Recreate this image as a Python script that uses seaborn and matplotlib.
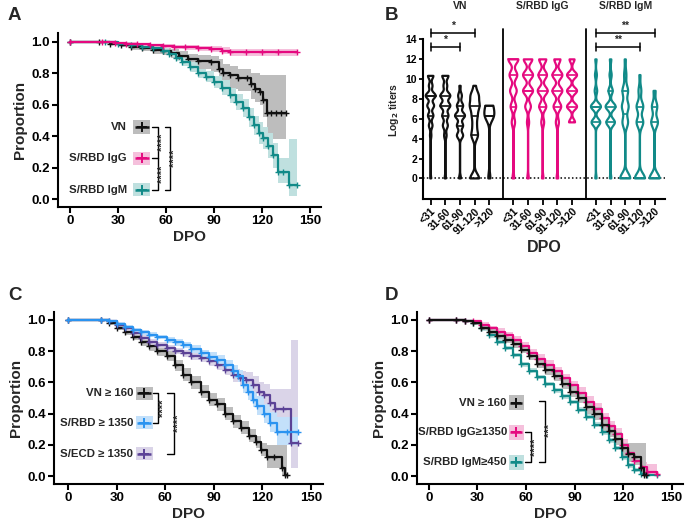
import numpy as np
import pandas as pd
import matplotlib
matplotlib.use("Agg")
import matplotlib.pyplot as plt
from matplotlib.patches import Rectangle
from matplotlib.ticker import FormatStrFormatter
import seaborn as sns

# ---------------- data ----------------
# Panel A
A_VN_t = [0, 18, 25, 32, 38, 45, 52, 58, 63, 68, 74, 80, 88, 93, 96, 100, 105, 111, 113, 116, 119, 121, 123, 126, 129, 132, 135]
A_VN_s = [1.0, 1.0, 0.99, 0.98, 0.97, 0.96, 0.95, 0.94, 0.93, 0.91, 0.89, 0.88, 0.87, 0.83, 0.80, 0.79, 0.77, 0.77, 0.73, 0.70, 0.68, 0.63, 0.55, 0.55, 0.55, 0.55, 0.55]
A_VN_lo = [1.0, 1.0, 0.98, 0.965, 0.95, 0.94, 0.925, 0.915, 0.90, 0.88, 0.85, 0.83, 0.81, 0.76, 0.72, 0.70, 0.69, 0.69, 0.64, 0.62, 0.60, 0.52, 0.38, 0.38, 0.38, 0.38, 0.38]
A_VN_hi = [1.0, 1.0, 1.0, 0.99, 0.985, 0.975, 0.97, 0.96, 0.955, 0.94, 0.925, 0.915, 0.91, 0.89, 0.86, 0.85, 0.83, 0.83, 0.80, 0.80, 0.79, 0.79, 0.79, 0.79, 0.79, 0.79, 0.79]

A_IgG_t = [0, 20, 28, 35, 42, 50, 58, 65, 72, 80, 88, 95, 100, 110, 120, 130, 142]
A_IgG_s = [1.0, 1.0, 0.995, 0.99, 0.985, 0.98, 0.975, 0.97, 0.965, 0.96, 0.955, 0.945, 0.935, 0.935, 0.935, 0.935, 0.935]
A_IgG_lo = [1.0, 1.0, 0.99, 0.983, 0.976, 0.97, 0.963, 0.957, 0.95, 0.944, 0.937, 0.925, 0.913, 0.913, 0.912, 0.912, 0.912]
A_IgG_hi = [1.0, 1.0, 1.0, 0.997, 0.993, 0.99, 0.987, 0.983, 0.98, 0.976, 0.973, 0.965, 0.957, 0.957, 0.958, 0.958, 0.958]

A_IgM_t = [0, 22, 30, 38, 45, 52, 58, 62, 66, 70, 75, 80, 85, 90, 95, 100, 104, 108, 112, 115, 118, 121, 124, 127, 130, 133, 137, 142]
A_IgM_s = [1.0, 1.0, 0.99, 0.98, 0.97, 0.96, 0.945, 0.925, 0.90, 0.87, 0.84, 0.80, 0.78, 0.745, 0.71, 0.66, 0.62, 0.58, 0.52, 0.47, 0.42, 0.39, 0.34, 0.28, 0.175, 0.175, 0.09, 0.09]
A_IgM_lo = [1.0, 1.0, 0.985, 0.97, 0.96, 0.945, 0.93, 0.905, 0.88, 0.845, 0.81, 0.77, 0.745, 0.705, 0.665, 0.61, 0.57, 0.52, 0.46, 0.41, 0.35, 0.32, 0.26, 0.20, 0.10, 0.10, 0.02, 0.02]
A_IgM_hi = [1.0, 1.0, 0.995, 0.99, 0.98, 0.975, 0.96, 0.945, 0.92, 0.895, 0.87, 0.83, 0.815, 0.785, 0.755, 0.71, 0.67, 0.64, 0.58, 0.53, 0.49, 0.46, 0.42, 0.36, 0.26, 0.26, 0.38, 0.38]

# Panel C
C_VN_t = [0, 20, 25, 30, 35, 40, 45, 50, 55, 61, 66, 71, 76, 82, 87, 92, 97, 102, 107, 112, 116, 119, 123, 127, 132, 134, 135]
C_VN_s = [1.0, 1.0, 0.98, 0.95, 0.92, 0.89, 0.86, 0.83, 0.80, 0.77, 0.71, 0.65, 0.60, 0.54, 0.49, 0.46, 0.40, 0.35, 0.31, 0.26, 0.22, 0.17, 0.125, 0.12, 0.05, 0.01, 0.01]
C_VN_lo = [1.0, 1.0, 0.97, 0.935, 0.90, 0.87, 0.835, 0.80, 0.77, 0.735, 0.675, 0.61, 0.56, 0.50, 0.45, 0.42, 0.36, 0.31, 0.27, 0.22, 0.18, 0.13, 0.05, 0.05, 0.0, 0.0, 0.0]
C_VN_hi = [1.0, 1.0, 0.99, 0.965, 0.94, 0.91, 0.885, 0.86, 0.83, 0.805, 0.745, 0.69, 0.64, 0.58, 0.53, 0.50, 0.44, 0.39, 0.35, 0.30, 0.26, 0.21, 0.20, 0.20, 0.20, 0.20, 0.20]

C_RBD_t = [0, 20, 25, 30, 35, 40, 45, 50, 55, 61, 66, 71, 76, 82, 87, 92, 97, 102, 105, 108, 111, 114, 117, 121, 125, 129, 135, 142]
C_RBD_s = [1.0, 1.0, 0.99, 0.975, 0.955, 0.935, 0.92, 0.905, 0.89, 0.87, 0.855, 0.84, 0.815, 0.785, 0.765, 0.745, 0.71, 0.67, 0.64, 0.58, 0.54, 0.49, 0.45, 0.40, 0.34, 0.28, 0.28, 0.28]
C_RBD_lo = [1.0, 1.0, 0.985, 0.965, 0.945, 0.92, 0.905, 0.89, 0.875, 0.85, 0.835, 0.82, 0.79, 0.76, 0.735, 0.715, 0.675, 0.63, 0.60, 0.535, 0.49, 0.44, 0.39, 0.34, 0.28, 0.20, 0.20, 0.20]
C_RBD_hi = [1.0, 1.0, 0.995, 0.985, 0.965, 0.95, 0.935, 0.92, 0.905, 0.89, 0.875, 0.86, 0.84, 0.81, 0.795, 0.775, 0.745, 0.71, 0.68, 0.625, 0.59, 0.54, 0.51, 0.46, 0.41, 0.38, 0.38, 0.38]

C_ECD_t = [0, 20, 25, 30, 35, 40, 45, 50, 55, 61, 66, 71, 76, 82, 87, 92, 97, 102, 106, 110, 114, 118, 121, 125, 128, 133, 138, 142]
C_ECD_s = [1.0, 1.0, 0.99, 0.97, 0.945, 0.915, 0.885, 0.86, 0.84, 0.82, 0.80, 0.785, 0.77, 0.755, 0.735, 0.71, 0.68, 0.645, 0.625, 0.615, 0.585, 0.54, 0.52, 0.465, 0.43, 0.43, 0.21, 0.21]
C_ECD_lo = [1.0, 1.0, 0.985, 0.96, 0.93, 0.90, 0.87, 0.84, 0.82, 0.80, 0.78, 0.765, 0.745, 0.73, 0.705, 0.68, 0.645, 0.605, 0.58, 0.565, 0.53, 0.48, 0.45, 0.39, 0.32, 0.32, 0.05, 0.05]
C_ECD_hi = [1.0, 1.0, 0.995, 0.98, 0.96, 0.93, 0.90, 0.88, 0.86, 0.84, 0.82, 0.805, 0.795, 0.78, 0.765, 0.74, 0.715, 0.685, 0.67, 0.665, 0.64, 0.60, 0.59, 0.555, 0.555, 0.555, 0.87, 0.87]

# Panel D
D_VN_t = [0, 17, 22, 27, 32, 37, 42, 47, 52, 57, 62, 67, 72, 77, 82, 87, 92, 97, 102, 107, 111, 115, 119, 123, 127, 131, 133, 134]
D_VN_s = [1.0, 1.0, 0.995, 0.98, 0.95, 0.92, 0.895, 0.87, 0.845, 0.81, 0.77, 0.72, 0.68, 0.64, 0.59, 0.54, 0.50, 0.44, 0.40, 0.33, 0.29, 0.24, 0.18, 0.14, 0.12, 0.05, 0.01, 0.01]
D_VN_lo = [1.0, 1.0, 0.985, 0.965, 0.935, 0.90, 0.875, 0.85, 0.82, 0.785, 0.745, 0.69, 0.65, 0.61, 0.555, 0.505, 0.465, 0.40, 0.36, 0.29, 0.25, 0.20, 0.13, 0.09, 0.07, 0.0, 0.0, 0.0]
D_VN_hi = [1.0, 1.0, 1.0, 0.995, 0.965, 0.94, 0.915, 0.89, 0.87, 0.835, 0.795, 0.75, 0.71, 0.67, 0.625, 0.575, 0.535, 0.48, 0.44, 0.37, 0.33, 0.28, 0.21, 0.21, 0.21, 0.21, 0.21, 0.21]

D_IgG_t = [0, 17, 22, 27, 32, 37, 42, 47, 52, 57, 62, 67, 72, 77, 82, 87, 92, 97, 102, 107, 111, 115, 119, 123, 127, 131, 135, 141]
D_IgG_s = [1.0, 1.0, 0.995, 0.99, 0.97, 0.945, 0.925, 0.90, 0.87, 0.83, 0.79, 0.75, 0.71, 0.67, 0.625, 0.58, 0.535, 0.475, 0.43, 0.37, 0.32, 0.27, 0.20, 0.15, 0.10, 0.06, 0.025, 0.015]
D_IgG_lo = [1.0, 1.0, 0.99, 0.98, 0.955, 0.93, 0.905, 0.88, 0.845, 0.805, 0.765, 0.72, 0.68, 0.64, 0.595, 0.55, 0.50, 0.44, 0.395, 0.335, 0.285, 0.235, 0.165, 0.12, 0.07, 0.03, 0.0, 0.0]
D_IgG_hi = [1.0, 1.0, 1.0, 0.997, 0.985, 0.96, 0.945, 0.92, 0.895, 0.855, 0.815, 0.78, 0.74, 0.70, 0.655, 0.61, 0.57, 0.51, 0.465, 0.405, 0.355, 0.305, 0.235, 0.185, 0.13, 0.09, 0.08, 0.08]

D_IgM_t = [0, 17, 22, 27, 32, 37, 42, 47, 52, 57, 62, 67, 72, 77, 82, 87, 92, 97, 102, 107, 111, 115, 119, 123, 127, 131, 135, 141]
D_IgM_s = [1.0, 1.0, 0.99, 0.98, 0.945, 0.90, 0.86, 0.82, 0.775, 0.715, 0.675, 0.635, 0.59, 0.55, 0.51, 0.475, 0.425, 0.38, 0.33, 0.28, 0.23, 0.18, 0.12, 0.07, 0.04, 0.015, 0.008, 0.005]
D_IgM_lo = [1.0, 1.0, 0.985, 0.97, 0.93, 0.885, 0.845, 0.805, 0.76, 0.70, 0.66, 0.62, 0.575, 0.535, 0.495, 0.46, 0.41, 0.365, 0.315, 0.265, 0.215, 0.165, 0.105, 0.055, 0.025, 0.0, 0.0, 0.0]
D_IgM_hi = [1.0, 1.0, 0.995, 0.99, 0.96, 0.915, 0.875, 0.835, 0.79, 0.73, 0.69, 0.65, 0.605, 0.565, 0.525, 0.49, 0.44, 0.395, 0.345, 0.295, 0.245, 0.195, 0.135, 0.085, 0.055, 0.03, 0.02, 0.02]

# Panel B (violins): counts of samples at each log2 titer level
dpo_cats = ["<31", "31-60", "61-90", "91-120", ">120"]
vn_levels = [0, 4.32, 5.32, 6.32, 7.32, 8.32, 9.32, 10.32]
vn_counts = [
    [2, 3, 8, 12, 15, 22, 8, 12],
    [2, 4, 8, 10, 16, 16, 6, 10],
    [3, 10, 10, 16, 10, 6, 2, 0],
    [14, 10, 6, 8, 14, 12, 3, 0],
    [1, 0, 0, 4, 3, 0, 0, 0],
]
ig_levels = [0, 5.64, 7.23, 8.81, 10.4, 11.98]
igg_counts = [
    [3, 6, 10, 12, 14, 18],
    [2, 3, 8, 14, 14, 12],
    [2, 4, 10, 14, 12, 10],
    [2, 4, 10, 13, 13, 8],
    [0, 6, 10, 10, 10, 5],
]
igm_counts = [
    [2, 14, 16, 4, 3, 2],
    [2, 12, 14, 6, 3, 2],
    [18, 10, 12, 10, 4, 2],
    [18, 12, 12, 5, 2, 0],
    [15, 10, 8, 3, 0, 0],
]
group_titles = ["VN", "S/RBD IgG", "S/RBD IgM"]

# ---------------- style ----------------
sns.set_theme(style="ticks")
plt.rcParams["font.family"] = ["Liberation Sans", "DejaVu Sans"]
plt.rcParams["font.weight"] = "bold"
plt.rcParams["axes.labelweight"] = "bold"
plt.rcParams["axes.linewidth"] = 1.5
plt.rcParams["axes.edgecolor"] = "black"
plt.rcParams["xtick.color"] = "black"
plt.rcParams["ytick.color"] = "black"

BLACK = "#111111"
MAG = "#E5097F"
TEAL = "#118A88"
BLUE = "#2A93F0"
PURP = "#5B4296"
GREY_B = "#BDBDBD"
MAG_B = "#F5C0DC"
TEAL_B = "#BFE0DF"
BLUE_B = "#C3E0FA"
PURP_B = "#DAD4E8"

fig = plt.figure(figsize=(6.85, 5.26), dpi=100)
W, H = 685.0, 526.0


def add_ax(l, t, r, b):
    return fig.add_axes([l / W, 1 - b / H, (r - l) / W, (b - t) / H])


def draw_km(ax, t, s, lo, hi, color, band):
    ax.fill_between(t, lo, hi, step="post", color=band, lw=0, zorder=1)
    sns.lineplot(x=t, y=s, ax=ax, color=color, drawstyle="steps-post", lw=1.6,
                 marker="+", markersize=5, markeredgewidth=1.0, markeredgecolor=color,
                 estimator=None, sort=False, legend=False, zorder=3)


def style_km(ax, xlim, ylim):
    ax.set_xlim(*xlim)
    ax.set_ylim(*ylim)
    ax.set_xticks([0, 30, 60, 90, 120, 150])
    ax.set_yticks([0, 0.2, 0.4, 0.6, 0.8, 1.0])
    ax.yaxis.set_major_formatter(FormatStrFormatter("%.1f"))
    sns.despine(ax=ax)
    ax.tick_params(labelsize=9.5, length=4, width=1.5, pad=2)
    ax.set_xlabel("DPO", fontsize=11, labelpad=2)
    ax.set_ylabel("Proportion", fontsize=11, labelpad=3)


def km_legend(ax, labels, ys, colors, bands, x0, w, h, gap):
    for lab, y, c, b in zip(labels, ys, colors, bands):
        ax.add_patch(Rectangle((x0, y - h / 2), w, h, facecolor=b, edgecolor="none", zorder=4))
        ax.plot([x0 + w * 0.08, x0 + w * 0.92], [y, y], color=c, lw=1.8, zorder=5, solid_capstyle="butt")
        ax.plot([x0 + w / 2], [y], marker="+", color=c, ms=7, mew=1.4, zorder=5)
        ax.text(x0 - gap, y, lab, ha="right", va="center", fontsize=8.2, fontweight="bold", zorder=5)


def bracket(ax, xin, xout, ys):
    ax.plot([xin, xout, xout, xin], [ys[0], ys[0], ys[-1], ys[-1]], color="black", lw=1.0, zorder=5)
    for y in ys[1:-1]:
        ax.plot([xin, xout], [y, y], color="black", lw=1.0, zorder=5)


def stars(ax, x, y, txt):
    ax.text(x, y, txt, rotation=90, ha="center", va="center", fontsize=8, zorder=5)


# ---------------- Panel A ----------------
axA = add_ax(58, 33, 321, 207)
draw_km(axA, A_VN_t, A_VN_s, A_VN_lo, A_VN_hi, BLACK, GREY_B)
draw_km(axA, A_IgM_t, A_IgM_s, A_IgM_lo, A_IgM_hi, TEAL, TEAL_B)
draw_km(axA, A_IgG_t, A_IgG_s, A_IgG_lo, A_IgG_hi, MAG, MAG_B)
style_km(axA, (-7.5, 157), (-0.05, 1.057))
km_legend(axA, ["VN", "S/RBD IgG", "S/RBD IgM"], [0.46, 0.26, 0.06],
          [BLACK, MAG, TEAL], [GREY_B, MAG_B, TEAL_B], 39.6, 10.4, 0.085, 4.0)
bracket(axA, 51.5, 54.8, [0.46, 0.26, 0.06])
bracket(axA, 59.5, 62.6, [0.46, 0.06])
stars(axA, 58.0, 0.36, "****")
stars(axA, 58.0, 0.16, "****")
stars(axA, 65.8, 0.26, "****")

# ---------------- Panel C ----------------
axC = add_ax(54, 312, 322.7, 484)
draw_km(axC, C_VN_t, C_VN_s, C_VN_lo, C_VN_hi, BLACK, GREY_B)
draw_km(axC, C_ECD_t, C_ECD_s, C_ECD_lo, C_ECD_hi, PURP, PURP_B)
draw_km(axC, C_RBD_t, C_RBD_s, C_RBD_lo, C_RBD_hi, BLUE, BLUE_B)
style_km(axC, (-8.9, 157.4), (-0.05, 1.05))
km_legend(axC, ["VN \u2265 160", "S/RBD \u2265 1350", "S/ECD \u2265 1350"], [0.53, 0.342, 0.145],
          [BLACK, BLUE, PURP], [GREY_B, BLUE_B, PURP_B], 41.9, 10.3, 0.085, 1.6)
bracket(axC, 52.4, 55.7, [0.53, 0.342])
bracket(axC, 61.0, 65.4, [0.53, 0.145])
stars(axC, 59.0, 0.436, "****")
stars(axC, 68.4, 0.338, "****")

# ---------------- Panel D ----------------
axD = add_ax(417.3, 312, 683, 484)
draw_km(axD, D_IgM_t, D_IgM_s, D_IgM_lo, D_IgM_hi, TEAL, TEAL_B)
draw_km(axD, D_IgG_t, D_IgG_s, D_IgG_lo, D_IgG_hi, MAG, MAG_B)
draw_km(axD, D_VN_t, D_VN_s, D_VN_lo, D_VN_hi, BLACK, GREY_B)
style_km(axD, (-7.2, 157), (-0.05, 1.05))
km_legend(axD, ["VN \u2265 160", "S/RBD IgG\u22651350", "S/RBD IgM\u2265450"], [0.47, 0.282, 0.09],
          [BLACK, MAG, TEAL], [GREY_B, MAG_B, TEAL_B], 49.2, 9.3, 0.096, 1.0)
bracket(axD, 59.5, 62.8, [0.282, 0.09])
bracket(axD, 68.2, 71.7, [0.481, 0.09])
stars(axD, 65.8, 0.186, "****")
stars(axD, 75.0, 0.29, "***")

# ---------------- Panel B ----------------
axB = add_ax(422.7, 20, 665, 199.3)
offsets = [0.0, 5.64, 11.27]
groups = [(vn_levels, vn_counts, BLACK, 0.35),
          (ig_levels, igg_counts, MAG, 0.33),
          (ig_levels, igm_counts, TEAL, 0.3)]
for gi, (levels, counts, color, bw) in enumerate(groups):
    rows = []
    for ci, cnt in enumerate(counts):
        for lv, n in zip(levels, cnt):
            rows += [(offsets[gi] + ci, lv)] * n
    df = pd.DataFrame(rows, columns=["pos", "titer"])
    sns.violinplot(data=df, x="pos", y="titer", native_scale=True, orient="x", color=color,
                   fill=False, inner="quart", cut=0, density_norm="width", bw_adjust=bw,
                   linewidth=1.6, width=0.68, ax=axB)
for ln in axB.lines:
    ln.set_linestyle("-")
    ln.set_linewidth(1.2)

x_lo, x_hi, y_lo, y_hi = -0.545, 15.98, -2.1, 15.94
axB.set_xlim(x_lo, x_hi)
axB.set_ylim(y_lo, y_hi)
axB.axhline(0, color="black", lw=1.1, ls=(0, (1, 1.5)), zorder=0)
for sx in [4.91, 10.59]:
    axB.plot([sx, sx], [y_lo, 15.0], color="black", lw=1.3)
ticks = [offsets[g] + i for g in range(3) for i in range(5)]
axB.set_xticks(ticks)
axB.set_xticklabels(dpo_cats * 3, rotation=45, ha="right", rotation_mode="anchor", fontsize=7.5)
axB.set_yticks(range(0, 15, 2))
axB.tick_params(axis="y", labelsize=7.5, length=3, width=1.3, pad=1)
axB.tick_params(axis="x", length=4, width=1.3, pad=1)
sns.despine(ax=axB)
axB.spines["left"].set_bounds(y_lo, 14)
axB.set_xlabel("DPO", fontsize=11.5, labelpad=3)
axB.set_ylabel(r"Log$_\mathbf{2}$ titers", fontsize=7.5, labelpad=3)
for g, title in enumerate(group_titles):
    axB.text(offsets[g] + 2, 17.3, title, ha="center", va="center", fontsize=7.5, clip_on=False)


def sig(ax, x1, x2, y, txt):
    ax.plot([x1, x2], [y, y], color="black", lw=1.1, clip_on=False)
    for x in (x1, x2):
        ax.plot([x, x], [y - 0.4, y + 0.4], color="black", lw=1.1, clip_on=False)
    ax.text((x1 + x2) / 2, y + 0.15, txt, ha="center", va="bottom", fontsize=7.5, clip_on=False)


sig(axB, 0, 3, 14.66, "*")
sig(axB, 0, 2, 13.25, "*")
sig(axB, 11.27, 15.27, 14.66, "**")
sig(axB, 11.27, 14.27, 13.25, "**")

# panel letters
for lab, x, y in [("A", 8, 15), ("B", 385, 16), ("C", 8, 295), ("D", 385, 295)]:
    fig.text(x / W, 1 - y / H, lab, fontsize=13.5, fontweight="bold", va="center", ha="left")

fig.savefig("out.png", dpi=100)
